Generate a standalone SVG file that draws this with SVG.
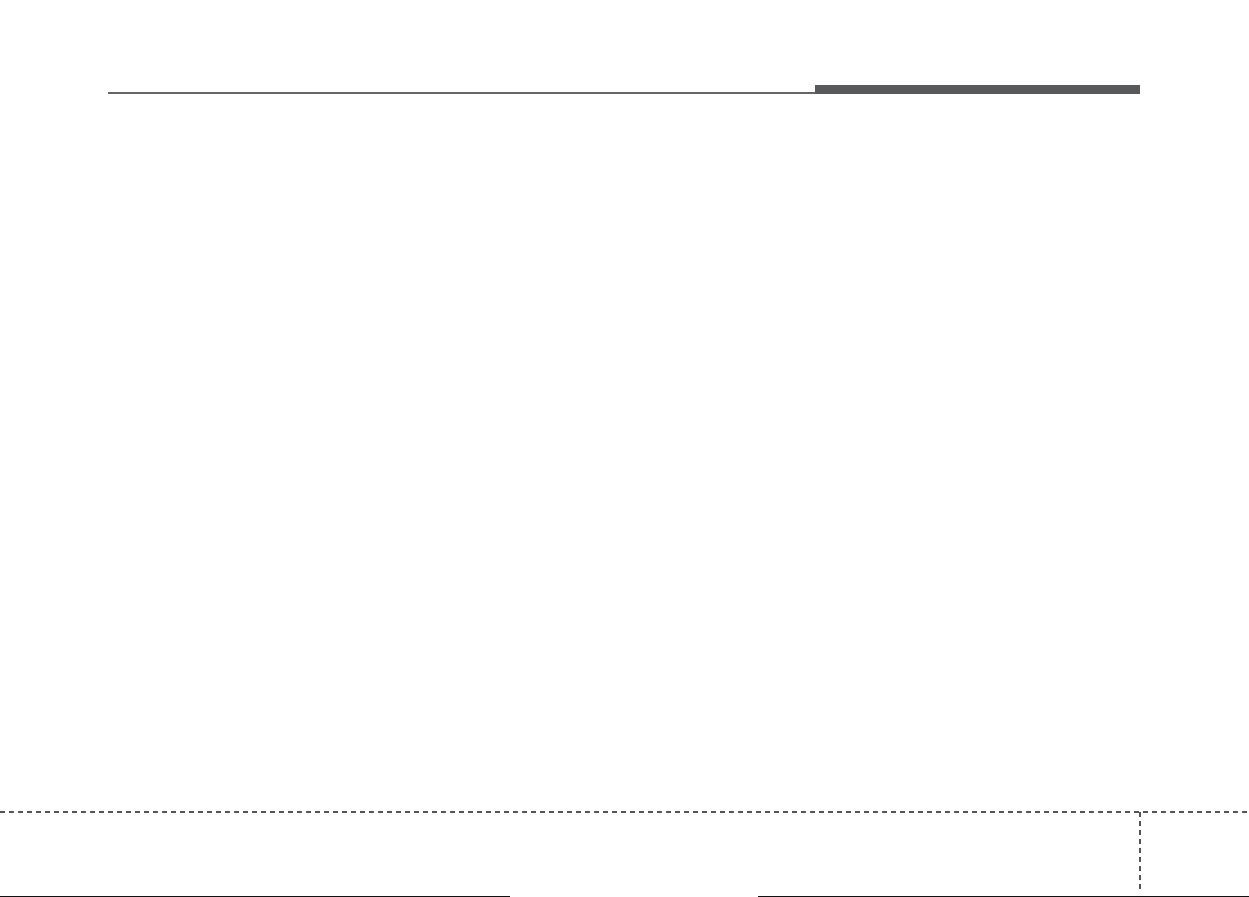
<svg xmlns="http://www.w3.org/2000/svg" width="1249" height="897" viewBox="0 0 1249 897">
<style>
.dash{stroke:#555;stroke-width:2;stroke-dasharray:5 4;fill:none}
</style>
<rect width="1249" height="897" fill="#fff"/>
<g id="header">
<line x1="108" y1="93" x2="815" y2="93" stroke="#333" stroke-width="1.6"/>
<rect x="815" y="85" width="325" height="9" fill="#58595b"/>
</g>
<g id="footer">
<line class="dash" x1="0" y1="812" x2="1249" y2="812"/>
<line class="dash" x1="1140" y1="812" x2="1140" y2="893"/>
<line x1="0" y1="896.5" x2="510" y2="896.5" stroke="#111" stroke-width="1"/>
<line x1="758" y1="896.5" x2="1249" y2="896.5" stroke="#111" stroke-width="1"/>
</g>
</svg>
